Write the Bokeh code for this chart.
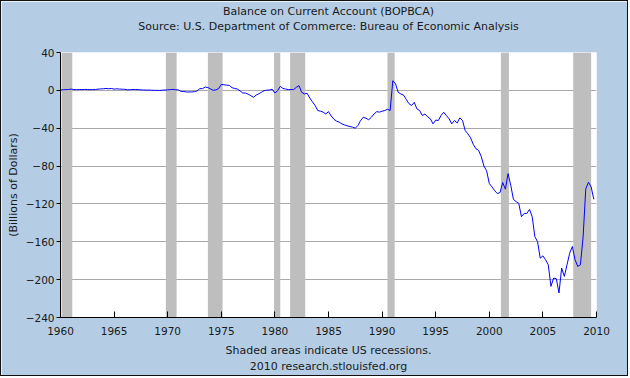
from bokeh.plotting import figure
from bokeh.models import Range1d, FixedTicker, BoxAnnotation, Title, ColumnDataSource
from bokeh.embed import file_html
from bokeh.resources import INLINE

FONT = "DejaVu Sans"
BG = "#b4cde4"
TXT = "#1a1a1a"

title_text = "Balance on Current Account (BOPBCA)"
subtitle_text = "Source: U.S. Department of Commerce: Bureau of Economic Analysis"
note_text = "Shaded areas indicate US recessions."
credit_text = "2010 research.stlouisfed.org"
y_label = "(Billions of Dollars)"

x_ticks = [1960, 1965, 1970, 1975, 1980, 1985, 1990, 1995, 2000, 2005, 2010]
y_ticks = [-240, -200, -160, -120, -80, -40, 0, 40]

# quarterly observations, billions of dollars
years = list(range(1960, 2010))
quarter_offsets = [0.0, 0.25, 0.5, 0.75]

bop_1960s = [0.4, 0.6, 0.8, 0.9,  1.3, 0.9, 0.7, 0.9,  0.8, 1.0, 0.9, 0.7,
             0.8, 0.9, 1.3, 1.5,  1.7, 2.0, 1.7, 2.0,  1.3, 1.6, 1.4, 1.2,
             1.1, 0.6, 0.7, 0.9,  0.9, 0.8, 0.5, 0.4,  0.2, 0.3, 0.1, 0.0,
             0.0, -0.1, 0.2, 0.3]
bop_1970s = [0.5, 0.8, 1.0, 0.6,  0.5, -1.2, -1.2, -1.7,  -1.7, -1.7, -1.4, -0.5,
             1.8, 1.8, 3.5, 3.0,  1.5, 0.0, 0.5, 1.8,  6.3, 5.9, 5.5, 5.3,
             2.8, 2.0, 1.4, -0.5,  -2.8, -2.8, -4.0, -5.6,  -7.3, -5.0, -3.6, -2.0,
             -0.3, 0.2, 0.4, 1.2]
bop_1980s = [-2.8, -0.3, 4.2, 2.0,  1.4, 0.8, 0.8, 0.8,  3.2, 4.9, -2.1, -3.8,
             -3.0, -8.0, -12.0, -16.0,  -21.3, -22.0, -23.0, -24.9,  -22.5, -27.0, -30.5, -32.5,
             -33.6, -35.4, -36.5, -37.5,  -38.2, -38.9, -40.0, -37.0,  -31.8, -28.4, -29.5, -31.0,
             -28.4, -24.9, -22.5, -23.0]
bop_1990s = [-22.0, -21.3, -20.0, -21.3,  10.2, 7.0, -2.1, -3.8,  -5.0, -9.5, -14.0, -16.0,
             -12.6, -19.6, -21.3, -26.6,  -25.0, -28.0, -30.0, -35.4,  -31.5, -31.8, -26.6, -23.1,
             -26.6, -30.0, -35.4, -31.8,  -34.5, -29.0, -31.8, -42.4,  -45.9, -50.0, -57.0, -61.6,
             -63.4, -70.0, -80.0, -85.0]
bop_2000s = [-98.4, -102.0, -106.0, -109.0,  -108.0, -97.4, -104.4, -87.9,
             -100.2, -115.2, -117.5, -119.5,  -133.5, -130.0, -130.0, -125.8,
             -133.5, -154.6, -159.8, -177.3,  -174.9, -179.0, -184.3, -207.1,
             -198.3, -199.0, -214.0, -187.8,  -196.6, -184.3, -172.0, -165.0,
             -179.0, -186.0, -184.3, -155.0,  -104.0, -97.0, -102.0, -115.2]

rec_start = [1960.1, 1969.83, 1973.75, 1979.92, 1981.42, 1990.5, 2001.08, 2007.83]
rec_end = [1961.1, 1970.83, 1975.12, 1980.5, 1982.83, 1991.17, 2001.83, 2009.5]

dates = [y + q for y in years for q in quarter_offsets]
values = bop_1960s + bop_1970s + bop_1980s + bop_1990s + bop_2000s
src = ColumnDataSource(dict(date=dates, value=values))

p = figure(width=628, height=376, x_range=Range1d(1960, 2010), y_range=Range1d(-240, 40),
           output_backend="svg", toolbar_location=None,
           background_fill_color="white", border_fill_color=BG, outline_line_color=None,
           min_border_left=59, min_border_right=33, min_border_top=51, min_border_bottom=60)
p.styles = {"border": "1px solid #111"}

for s, e in zip(rec_start, rec_end):
    p.add_layout(BoxAnnotation(left=s, right=e, fill_color="#bebebe", fill_alpha=1.0,
                               line_color=None, level="underlay"))

p.line("date", "value", source=src, line_color="#0000ff", line_width=1)

# axes
p.xaxis.ticker = FixedTicker(ticks=x_ticks)
p.yaxis.ticker = FixedTicker(ticks=y_ticks)
for ax in (p.xaxis[0], p.yaxis[0]):
    ax.axis_line_color = "black"
    ax.axis_line_width = 1
    ax.major_tick_line_color = "black"
    ax.minor_tick_line_color = None
    ax.major_label_text_font = FONT
    ax.major_label_text_font_size = "10.5px"
    ax.major_label_text_color = TXT
    ax.axis_label_text_font = FONT
    ax.axis_label_text_font_size = "11px"
    ax.axis_label_text_font_style = "normal"
    ax.axis_label_text_color = TXT
p.xaxis.major_tick_in = 6
p.xaxis.major_tick_out = 0
p.xaxis.major_label_standoff = 9
p.xaxis.axis_label = note_text
p.xaxis.axis_label_standoff = 6
p.yaxis.major_tick_in = 0
p.yaxis.major_tick_out = 4
p.yaxis.major_label_standoff = 2
p.yaxis.axis_label = y_label
p.yaxis.axis_label_standoff = 3

p.xgrid.grid_line_color = None
p.ygrid.grid_line_color = "#aaaaaa"
p.ygrid.grid_line_width = 1

def title(text, standoff, side, valign="bottom"):
    p.add_layout(Title(text=text, align="center", vertical_align=valign, text_font=FONT,
                       text_font_size="11px", text_font_style="normal", text_color=TXT,
                       standoff=standoff), side)

# above: panels stack outward from the plot frame
title(" ", 5, "above")          # spacer
title(subtitle_text, 0, "above")
title(title_text, 0, "above")
# below the x axis (whose label holds the recession note)
title(credit_text, 0, "below", valign="top")

open("out.html", "w").write(file_html(p, INLINE))
